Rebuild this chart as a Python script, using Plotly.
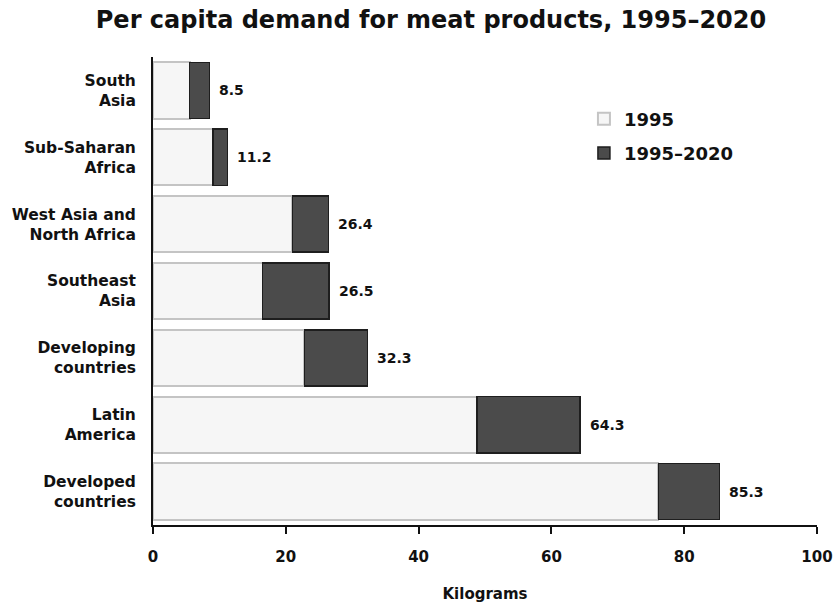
import plotly.graph_objects as go

categories = ["South<br>Asia", "Sub-Saharan<br>Africa", "West Asia and<br>North Africa",
              "Southeast<br>Asia", "Developing<br>countries", "Latin<br>America",
              "Developed<br>countries"]
demand_1995 = [5.5, 9.0, 21.0, 16.5, 22.8, 48.8, 76.1]
demand_2020 = [8.5, 11.2, 26.4, 26.5, 32.3, 64.3, 85.3]
increase = [round(t - b, 1) for t, b in zip(demand_2020, demand_1995)]
x_ticks = [0, 20, 40, 60, 80, 100]

FONT = "DejaVu Sans"
W, H = 839, 603

fig = go.Figure()
fig.add_trace(go.Bar(
    y=categories, x=demand_1995, orientation="h", name="1995",
    marker=dict(color="#f6f6f6", line=dict(color="#c4c4c4", width=2)),
    legendgroup="a",
))
fig.add_trace(go.Bar(
    y=categories, x=increase, orientation="h", name="1995\u20132020",
    marker=dict(color="#4b4b4b", line=dict(color="#1e1e1e", width=1.5)),
    legendgroup="b",
))

for cat, tot in zip(categories, demand_2020):
    fig.add_annotation(x=tot, y=cat, text=f"{tot}", showarrow=False,
                       xanchor="left", xshift=8,
                       font=dict(family=FONT, size=14, color="#111", weight="bold"))

fig.update_layout(
    width=W, height=H, autosize=False,
    margin=dict(l=153, r=22, t=57, b=78),
    barmode="stack", bargap=0.16,
    plot_bgcolor="white", paper_bgcolor="white",
    title=dict(text="Per capita demand for meat products, 1995\u20132020",
               x=431 / W, xref="container", xanchor="center",
               y=1 - 20 / H, yref="container", yanchor="middle",
               font=dict(family=FONT, size=24, color="#111", weight="bold")),
    legend=dict(x=0.649, y=0.907, xanchor="left", yanchor="top",
                traceorder="grouped", tracegroupgap=8,
                font=dict(family=FONT, size=18, color="#111", weight="bold"),
                bgcolor="rgba(0,0,0,0)"),
    showlegend=True,
)
fig.update_xaxes(range=[0, 100], tickvals=x_ticks, ticktext=[str(v) for v in x_ticks],
                 showgrid=False, zeroline=False, automargin=False,
                 showline=True, linecolor="#111", linewidth=2,
                 ticks="outside", ticklen=7, tickwidth=1.5, tickcolor="#111",
                 ticklabelstandoff=10,
                 tickfont=dict(family=FONT, size=15, color="#111", weight="bold"),
                 title=dict(text="Kilograms", standoff=40,
                            font=dict(family=FONT, size=15, color="#111", weight="bold")))
fig.update_yaxes(autorange="reversed", showgrid=False, zeroline=False, automargin=False,
                 showline=True, linecolor="#111", linewidth=2,
                 ticks="", ticklabelstandoff=12,
                 tickfont=dict(family=FONT, size=15.5, color="#111", weight="bold"))

fig.write_html(
    "out.html",
    config={"displayModeBar": False},
    post_script="document.body.style.margin='0';document.body.style.overflow='hidden';",
)
